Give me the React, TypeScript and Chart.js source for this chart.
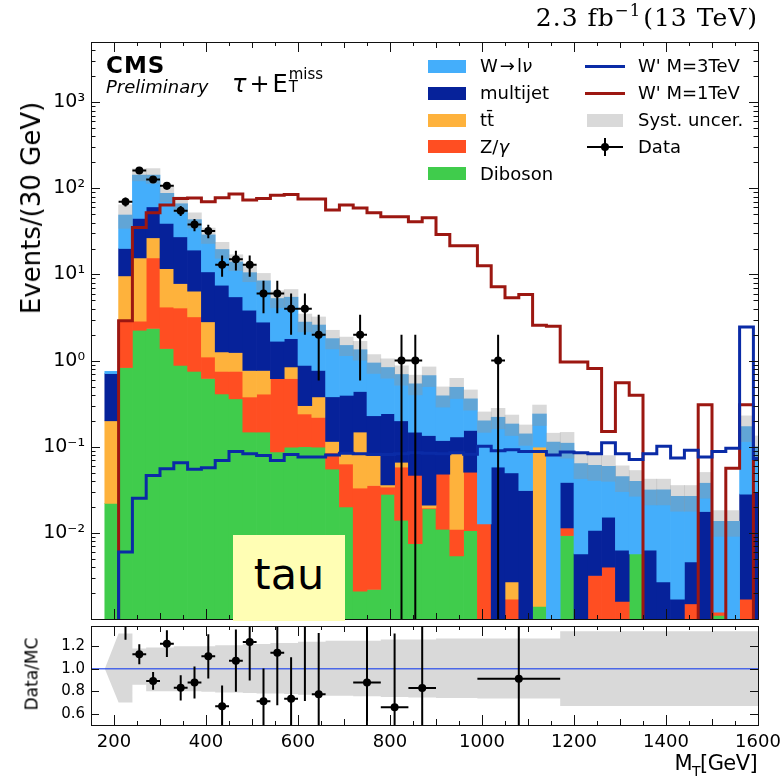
import React, { useEffect, useRef } from 'react';
import { Chart, registerables } from 'chart.js';

Chart.register(...registerables);
Chart.defaults.font.family = "'DejaVu Sans', sans-serif";
Chart.defaults.color = '#000';

// Lower edges of the 30 GeV transverse-mass bins
const binLowEdges = [
  180, 210, 240, 270, 300, 330, 360, 390, 420, 450, 480, 510, 540, 570, 600, 630,
  660, 690, 720, 750, 780, 810, 840, 870, 900, 930, 960, 990, 1020, 1050, 1080, 1110,
  1140, 1170, 1200, 1230, 1260, 1290, 1320, 1350, 1380, 1410, 1440, 1470, 1500, 1530, 1560, 1590,
];
const BIN_WIDTH = 30;

// Expected backgrounds (events per bin)
const wToLNu = [
  0.044, 29, 97.8, 81.5, 48.3, 38.9, 24.1, 18.1, 12.0, 8.5, 6.65, 5.64, 3.58, 3.65, 1.92, 1.82,
  1.42, 1.105, 0.9, 0.71, 0.59, 0.49, 0.39, 0.535, 0.272, 0.36, 0.205, 0.187, 0.162, 0.134, 0.11, 0.141,
  0.113, 0.0715, 0.058, 0.05, 0.044, 0.0387, 0.034, 0.0252, 0.0288, 0.0249, 0.022, 0.02, 0.0124, 0.0136, 0.143, 0.07,
];
const multijet = [
  0.506, 10.4, 29.2, 34.3, 27.5, 19.5, 12.8, 7.9, 6.24, 4.26, 3.08, 2.03, 1.06, 0.955, 0.58, 0.39,
  0.265, 0.308, 0.29, 0.15, 0.206, 0.134, 0.101, 0.114, 0.07, 0.047, 0.104, 0, 0.058, 0.047, 0.031, 0,
  0, 0.0271, 0.0057, 0.0075, 0.0112, 0.0047, 0, 0.0063, 0.0027, 0.0017, 0.0031, 0.0177, 0, 0, 0.0265, 0.03,
];
const ttbar = [
  0.178, 6.7, 12.7, 11.1, 7.5, 3.76, 3.18, 1.72, 0.51, 0.49, 0.39, 0.36, 0, 0.225, 0.06, 0.16,
  0.03, 0.024, 0.115, 0.0435, 0.002, 0.008, 0, 0.0016, 0, 0.072, 0, 0, 0, 0.001, 0, 0.0976,
  0, 0, 0, 0, 0, 0, 0, 0, 0, 0, 0, 0, 0, 0, 0, 0,
];
const zGamma = [
  0, 2.1, 0.61, 13.2, 2.8, 3.2, 2.47, 0.48, 0.34, 0.39, 0.23, 0.26, 0.53, 0.52, 0.14, 0.12,
  0.03, 0.043, 0.031, 0.0333, 0.006, 0.044, 0.039, 0.0004, 0.037, 0.0056, 0.04, 0.0127, 0, 0.0017, 0, 0,
  0, 0.0021, 0, 0.0032, 0.004, 0.0016, 0, 0, 0, 0, 0.0015, 0, 0.0001, 0, 0.0017, 0,
];
const diboson = [
  0.022, 0.83, 2.25, 2.36, 1.38, 0.88, 0.75, 0.62, 0.41, 0.36, 0.148, 0.148, 0.087, 0.099, 0.1, 0.099,
  0.055, 0.02, 0.0021, 0.0022, 0.028, 0.014, 0.0075, 0.019, 0.011, 0.0054, 0.0106, 0, 0, 0, 0, 0.0014,
  0, 0.0093, 0, 0, 0, 0, 0.0057, 0, 0, 0, 0, 0, 0.0011, 0, 0, 0,
];

// Signal hypotheses (events per bin)
const wPrime3TeV = [
  0, 0.006, 0.0253, 0.0464, 0.0555, 0.0652, 0.0546, 0.057, 0.0693, 0.0882, 0.083, 0.079, 0.069, 0.081, 0.076, 0.076,
  0.08, 0.084, 0.083, 0.082, 0.081, 0.083, 0.085, 0.084, 0.083, 0.085, 0.082, 0.101, 0.09, 0.092, 0.088, 0.088,
  0.08, 0.087, 0.085, 0.083, 0.111, 0.083, 0.071, 0.083, 0.101, 0.074, 0.091, 0.076, 0.088, 0.096, 2.46, 0.073,
];
const wPrime1TeV = [
  0, 2.9, 35, 52, 64, 76, 77, 70, 78, 86, 73, 76, 83, 85, 75, 75,
  56, 64, 59, 52, 46.8, 46.8, 41, 45.6, 29.2, 21.6, 21.6, 12.6, 7.2, 5.35, 5.85, 2.57,
  2.5, 0.965, 0.965, 0.81, 0.15, 0.555, 0.395, 0, 0, 0, 0, 0.308, 0, 0.0563, 0.308, 0,
];

// Observed events per bin
const observed = [
  0, 70, 161, 127, 107, 55, 38, 32, 13, 15, 13, 6, 6, 4, 4, 2,
  0, 0, 2, 0, 0, 1, 1, 0, 0, 0, 0, 0, 1, 0, 0, 0,
  0, 0, 0, 0, 0, 0, 0, 0, 0, 0, 0, 0, 0, 0, 0, 0,
];

// Bin edges of the ratio panel and relative systematic uncertainty in each of them
const ratioEdges = [
  180, 210, 240, 270, 300, 330, 360, 390, 420, 450, 480, 510, 540, 570, 600, 630, 660,
  720, 780, 840, 900, 990, 1170, 1620,
];
const systUp = [
  0, 0.314, 0.18, 0.19, 0.19, 0.2, 0.2, 0.2, 0.21, 0.21, 0.22, 0.22, 0.23, 0.23, 0.24, 0.24,
  0.25, 0.25, 0.26, 0.26, 0.27, 0.27, 0.334,
];
const systDown = [
  0, 0.3, 0.143, 0.2, 0.2, 0.2, 0.2, 0.205, 0.21, 0.21, 0.215, 0.22, 0.22, 0.225, 0.23, 0.235,
  0.24, 0.245, 0.25, 0.255, 0.26, 0.265, 0.33,
];

// Axis ticks
const mtTicks = [200, 400, 600, 800, 1000, 1200, 1400, 1600];
const eventTicks = [1e-2, 1e-1, 1, 10, 100, 1000];
const ratioTicks = [0.6, 0.8, 1.0, 1.2];

const MT_MIN = 150;
const MT_MAX = 1600;
const EVENTS_MIN = 1e-3;
const EVENTS_MAX = 5000;
const RATIO_MIN = 0.5;
const RATIO_MAX = 1.38;
const LOG_FLOOR = 1e-6; // stands in for zero on the log axis

const COLORS = {
  wlnu: '#44AEFB',
  multijet: '#06229A',
  ttbar: '#FEB23C',
  zgamma: '#FF4E22',
  diboson: '#40CC4C',
  w3: '#0A2BA6',
  w1: '#9C1711',
  syst: 'rgba(150,150,150,0.36)',
  unity: 'rgba(40,75,235,0.8)',
};

const centers = binLowEdges.map((e) => e + BIN_WIDTH / 2);
const mcTotal = binLowEdges.map((_, i) => wToLNu[i] + multijet[i] + ttbar[i] + zGamma[i] + diboson[i]);

function ratioBinOf(edge: number) {
  for (let j = 0; j < ratioEdges.length - 1; j++) {
    if (edge >= ratioEdges[j] && edge < ratioEdges[j + 1]) return j;
  }
  return ratioEdges.length - 2;
}

const SUP: Record<string, string> = { '-': '⁻', '0': '⁰', '1': '¹', '2': '²', '3': '³', '4': '⁴', '5': '⁵' };
const powerLabel = (v: number) =>
  '10' + String(Math.round(Math.log10(v))).split('').map((c) => SUP[c] || c).join('');

// Vertical and horizontal error bars drawn through the chart's scales
const errorBarsPlugin = {
  id: 'errorBars',
  afterDatasetsDraw(chart: any, _args: any, opts: any) {
    if (!opts || !opts.items) return;
    const { ctx, chartArea: a } = chart;
    const xs = chart.scales.x;
    const ys = chart.scales.y;
    ctx.save();
    ctx.beginPath();
    ctx.rect(a.left, a.top, a.right - a.left, a.bottom - a.top);
    ctx.clip();
    ctx.strokeStyle = opts.color || '#000';
    ctx.lineWidth = opts.width || 2;
    ctx.beginPath();
    for (const it of opts.items) {
      const px = xs.getPixelForValue(it.x);
      const py = ys.getPixelForValue(it.y);
      const hi = ys.getPixelForValue(it.yHi);
      const lo = opts.log && it.yLo <= 0 ? a.bottom + 20 : ys.getPixelForValue(it.yLo);
      ctx.moveTo(px, lo);
      ctx.lineTo(px, hi);
      ctx.moveTo(xs.getPixelForValue(it.xLo), py);
      ctx.lineTo(xs.getPixelForValue(it.xHi), py);
    }
    ctx.stroke();
    ctx.restore();
  },
};

// Inward tick marks on all four sides plus the frame
const frameTicksPlugin = {
  id: 'frameTicks',
  afterDraw(chart: any, _args: any, opts: any) {
    const { ctx, chartArea: a } = chart;
    const xs = chart.scales.x;
    const ys = chart.scales.y;
    ctx.save();
    ctx.strokeStyle = '#111';
    ctx.lineWidth = 1;
    ctx.beginPath();
    for (const t of opts.x || []) {
      const px = Math.round(xs.getPixelForValue(t.v)) + 0.5;
      ctx.moveTo(px, a.top);
      ctx.lineTo(px, a.top + t.len);
      ctx.moveTo(px, a.bottom);
      ctx.lineTo(px, a.bottom - t.len);
    }
    for (const t of opts.y || []) {
      const py = Math.round(ys.getPixelForValue(t.v)) + 0.5;
      ctx.moveTo(a.left, py);
      ctx.lineTo(a.left + t.len, py);
      ctx.moveTo(a.right, py);
      ctx.lineTo(a.right - t.len, py);
    }
    ctx.stroke();
    ctx.strokeRect(
      Math.round(a.left) + 0.5,
      Math.round(a.top) + 0.5,
      Math.round(a.right - a.left),
      Math.round(a.bottom - a.top),
    );
    ctx.restore();
  },
};

function mtTickMarks() {
  const marks: { v: number; len: number }[] = [];
  for (let v = MT_MIN; v <= MT_MAX; v += 50) {
    marks.push({ v, len: v % 200 === 0 ? 10 : v % 100 === 0 ? 6 : 4 });
  }
  return marks;
}

function logTickMarks() {
  const marks: { v: number; len: number }[] = [];
  for (let d = -3; d <= 3; d++) {
    for (let m = 1; m <= 9; m++) {
      const v = m * Math.pow(10, d);
      if (v > EVENTS_MIN * 1.001 && v < EVENTS_MAX) marks.push({ v, len: m === 1 ? 9 : 4.5 });
    }
  }
  return marks;
}

const STACK = [
  { label: 'Diboson', values: diboson, color: COLORS.diboson },
  { label: 'Z/γ', values: zGamma, color: COLORS.zgamma },
  { label: 'tt̄', values: ttbar, color: COLORS.ttbar },
  { label: 'multijet', values: multijet, color: COLORS.multijet },
  { label: 'W→lν', values: wToLNu, color: COLORS.wlnu },
];

function stackDatasets() {
  const base = binLowEdges.map(() => 0);
  return STACK.map((c) => {
    const data: any[] = [];
    c.values.forEach((v, i) => {
      if (v > 0) data.push({ x: centers[i], y: [Math.max(base[i], LOG_FLOOR), base[i] + v] });
      base[i] += v;
    });
    return {
      type: 'bar',
      label: c.label,
      data,
      backgroundColor: c.color,
      borderWidth: 0,
      grouped: false,
      barPercentage: 1,
      categoryPercentage: 1,
      clip: 0,
    };
  }).reverse();
}

function stepPoints(vals: number[]) {
  const pts = binLowEdges.map((e, i) => ({ x: e, y: Math.max(vals[i], LOG_FLOOR) }));
  pts.push({ x: binLowEdges[binLowEdges.length - 1] + BIN_WIDTH, y: Math.max(vals[vals.length - 1], LOG_FLOOR) });
  return pts;
}

function buildMainConfig(): any {
  const band: any[] = [];
  binLowEdges.forEach((e, i) => {
    const j = ratioBinOf(e);
    if (mcTotal[i] > 0 && (systUp[j] > 0 || systDown[j] > 0)) {
      band.push({ x: centers[i], y: [mcTotal[i] * (1 - systDown[j]), mcTotal[i] * (1 + systUp[j])] });
    }
  });

  const dataPts: any[] = [];
  const errs: any[] = [];
  observed.forEach((n, i) => {
    if (n <= 0) return;
    dataPts.push({ x: centers[i], y: n });
    errs.push({
      x: centers[i], y: n,
      xLo: binLowEdges[i], xHi: binLowEdges[i] + BIN_WIDTH,
      yLo: n - Math.sqrt(n), yHi: n + Math.sqrt(n),
    });
  });

  const lineCommon = {
    type: 'line', pointRadius: 0, borderWidth: 3, stepped: true, fill: false, clip: 0,
    borderJoinStyle: 'miter', borderCapStyle: 'butt',
  };

  return {
    type: 'scatter',
    data: {
      datasets: [
        { type: 'scatter', label: 'Data', data: dataPts, pointRadius: 4, pointBackgroundColor: '#000', pointBorderWidth: 0, clip: 0 },
        { ...lineCommon, label: "W' M=3TeV", data: stepPoints(wPrime3TeV), borderColor: COLORS.w3 },
        { ...lineCommon, label: "W' M=1TeV", data: stepPoints(wPrime1TeV), borderColor: COLORS.w1 },
        {
          type: 'bar', label: 'Syst. uncer.', data: band, backgroundColor: COLORS.syst, borderWidth: 0,
          grouped: false, barPercentage: 1, categoryPercentage: 1, clip: 0,
        },
        ...stackDatasets(),
      ],
    },
    options: {
      responsive: false,
      animation: false,
      events: [],
      layout: { padding: { left: 0, right: 26, top: 42, bottom: 1 } },
      plugins: {
        legend: { display: false },
        tooltip: { enabled: false },
        errorBars: { items: errs, log: true, color: '#000', width: 2 },
        frameTicks: { x: mtTickMarks(), y: logTickMarks() },
      },
      scales: {
        x: { type: 'linear', min: MT_MIN, max: MT_MAX, display: false, offset: false },
        y: {
          type: 'logarithmic',
          min: EVENTS_MIN,
          max: EVENTS_MAX,
          grid: { display: false, drawTicks: false },
          border: { display: false },
          afterBuildTicks: (s: any) => { s.ticks = eventTicks.map((v) => ({ value: v })); },
          afterFit: (s: any) => { s.width = 91; s.paddingTop = 0; s.paddingBottom = 0; },
          ticks: { callback: (v: any) => powerLabel(Number(v)), font: { size: 19 }, color: '#000', padding: 6, autoSkip: false },
        },
      },
    },
    plugins: [errorBarsPlugin, frameTicksPlugin],
  };
}

function buildRatioConfig(): any {
  const groups = ratioEdges.slice(0, -1).map((lo, j) => {
    const hi = ratioEdges[j + 1];
    let n = 0;
    let mc = 0;
    binLowEdges.forEach((e, i) => {
      if (e >= lo && e < hi) { n += observed[i]; mc += mcTotal[i]; }
    });
    return { lo, hi, n, mc };
  });

  const pts: any[] = [];
  const errs: any[] = [];
  groups.forEach((g) => {
    if (g.n <= 0 || g.mc <= 0) return;
    const r = g.n / g.mc;
    const e = Math.sqrt(g.n) / g.mc;
    const c = (g.lo + g.hi) / 2;
    pts.push({ x: c, y: r });
    errs.push({ x: c, y: r, xLo: g.lo, xHi: g.hi, yLo: r - e, yHi: r + e });
  });

  // band outline: up along the upper edge, back along the lower edge
  const upper: any[] = [{ x: ratioEdges[0], y: 1 + systUp[0] }];
  const lower: any[] = [{ x: ratioEdges[0], y: 1 - systDown[0] }];
  for (let j = 1; j < ratioEdges.length - 1; j++) {
    upper.push({ x: ratioEdges[j], y: 1 + systUp[j] }, { x: ratioEdges[j + 1], y: 1 + systUp[j] });
    lower.push({ x: ratioEdges[j], y: 1 - systDown[j] }, { x: ratioEdges[j + 1], y: 1 - systDown[j] });
  }
  const bandShape = [...upper, ...lower.reverse()];

  return {
    type: 'scatter',
    data: {
      datasets: [
        { type: 'scatter', label: 'Data/MC', data: pts, pointRadius: 4, pointBackgroundColor: '#000', pointBorderWidth: 0, clip: 0 },
        {
          type: 'line', label: 'unity', data: [{ x: MT_MIN, y: 1 }, { x: MT_MAX, y: 1 }],
          borderColor: COLORS.unity, borderWidth: 1.6, pointRadius: 0, fill: false, clip: 0,
        },
        {
          type: 'line', label: 'syst', data: bandShape, showLine: true, fill: 'shape',
          backgroundColor: COLORS.syst, borderColor: 'rgba(0,0,0,0)', borderWidth: 0, pointRadius: 0, tension: 0, clip: 0,
        },
      ],
    },
    options: {
      responsive: false,
      animation: false,
      events: [],
      layout: { padding: { left: 0, right: 26, top: 0, bottom: 0 } },
      plugins: {
        legend: { display: false },
        tooltip: { enabled: false },
        errorBars: { items: errs, log: false, color: '#000', width: 2 },
        frameTicks: { x: mtTickMarks(), y: ratioTicks.map((v) => ({ v, len: 8 })) },
      },
      scales: {
        x: {
          type: 'linear', min: MT_MIN, max: MT_MAX, offset: false,
          grid: { display: false, drawTicks: false },
          border: { display: false },
          afterBuildTicks: (s: any) => { s.ticks = mtTicks.map((v) => ({ value: v })); },
          afterFit: (s: any) => { s.height = 53; s.paddingLeft = 0; s.paddingRight = 0; },
          ticks: { callback: (v: any) => String(v), font: { size: 18 }, color: '#000', padding: 7, autoSkip: false, maxRotation: 0 },
        },
        y: {
          type: 'linear', min: RATIO_MIN, max: RATIO_MAX,
          grid: { display: false, drawTicks: false },
          border: { display: false },
          afterBuildTicks: (s: any) => { s.ticks = ratioTicks.map((v) => ({ value: v })); },
          afterFit: (s: any) => { s.width = 91; s.paddingTop = 0; s.paddingBottom = 0; },
          ticks: { callback: (v: any) => Number(v).toFixed(1), font: { size: 15 }, color: '#000', padding: 6, autoSkip: false },
        },
      },
    },
    plugins: [errorBarsPlugin, frameTicksPlugin],
  };
}

const LEGEND_ROWS = [66, 93, 120, 146.5, 173.5];

const abs = (style: React.CSSProperties): React.CSSProperties => ({ position: 'absolute', whiteSpace: 'nowrap', ...style });

export default function App() {
  const mainRef = useRef<HTMLCanvasElement | null>(null);
  const ratioRef = useRef<HTMLCanvasElement | null>(null);

  useEffect(() => {
    if (!mainRef.current || !ratioRef.current) return;
    const mainChart = new Chart(mainRef.current, buildMainConfig());
    const ratioChart = new Chart(ratioRef.current, buildRatioConfig());
    return () => {
      mainChart.destroy();
      ratioChart.destroy();
    };
  }, []);

  const leftEntries: { label: React.ReactNode; color: string }[] = [
    { label: <>W<span style={{ padding: '0 2px' }}>→</span>l<i>ν</i></>, color: COLORS.wlnu },
    { label: 'multijet', color: COLORS.multijet },
    { label: 'tt\u0304', color: COLORS.ttbar },
    { label: <>Z/<i>γ</i></>, color: COLORS.zgamma },
    { label: 'Diboson', color: COLORS.diboson },
  ];

  const labelStyle = (y: number, x: number): React.CSSProperties =>
    abs({ left: x, top: y - 8.6, fontSize: 18, lineHeight: '18px' });

  return (
    <div
      style={{
        position: 'absolute', left: 0, top: 0, width: 784, height: 778, background: '#fff',
        overflow: 'hidden', fontFamily: "'DejaVu Sans', sans-serif", color: '#000',
      }}
    >
      <canvas ref={mainRef} width={784} height={623} style={{ position: 'absolute', left: 0, top: 0, width: 784, height: 623 }} />
      <canvas ref={ratioRef} width={784} height={156} style={{ position: 'absolute', left: 0, top: 622, width: 784, height: 156 }} />

      {/* luminosity / energy */}
      <div style={abs({ right: 26, top: 4, fontFamily: "'DejaVu Serif', serif", fontSize: 25, lineHeight: '28px', letterSpacing: 1 })}>
        2.3 fb<span style={{ fontSize: '0.66em', position: 'relative', top: '-0.6em' }}>−1</span>
        <span style={{ marginLeft: 2 }}>(13 TeV)</span>
      </div>

      {/* experiment label and channel */}
      <div style={abs({ left: 106, top: 54, fontSize: 23, lineHeight: '23px', fontWeight: 'bold', letterSpacing: 1 })}>CMS</div>
      <div style={abs({ left: 106, top: 78, fontSize: 18, lineHeight: '18px', fontStyle: 'italic' })}>Preliminary</div>
      <div style={abs({ left: 232, top: 72, fontSize: 24, lineHeight: '24px' })}>
        <i>τ</i>
        <span style={{ padding: '0 3px' }}>+</span>E
        <span style={{ display: 'inline-flex', flexDirection: 'column', fontSize: 15, lineHeight: '13px', verticalAlign: 'top', marginTop: -4, marginLeft: 1 }}>
          <span>miss</span>
          <span>T</span>
        </span>
      </div>

      {/* legend, left column */}
      {leftEntries.map((e, k) => (
        <React.Fragment key={k}>
          <div style={abs({ left: 428, top: LEGEND_ROWS[k] - 6.5, width: 38, height: 13, background: e.color })} />
          <div style={labelStyle(LEGEND_ROWS[k], 480)}>{e.label}</div>
        </React.Fragment>
      ))}

      {/* legend, right column */}
      <div style={abs({ left: 585, top: LEGEND_ROWS[0] - 1.5, width: 40, height: 3, background: COLORS.w3 })} />
      <div style={labelStyle(LEGEND_ROWS[0], 638)}>W' M=3TeV</div>
      <div style={abs({ left: 585, top: LEGEND_ROWS[1] - 1.5, width: 40, height: 3, background: COLORS.w1 })} />
      <div style={labelStyle(LEGEND_ROWS[1], 638)}>W' M=1TeV</div>
      <div style={abs({ left: 587, top: LEGEND_ROWS[2] - 6.5, width: 36, height: 13, background: COLORS.syst })} />
      <div style={labelStyle(LEGEND_ROWS[2], 638)}>Syst. uncer.</div>
      <div style={abs({ left: 587, top: LEGEND_ROWS[3] - 1, width: 36, height: 2, background: '#000' })} />
      <div style={abs({ left: 604, top: LEGEND_ROWS[3] - 9, width: 2, height: 18, background: '#000' })} />
      <div style={abs({ left: 601, top: LEGEND_ROWS[3] - 4, width: 8, height: 8, borderRadius: 4, background: '#000' })} />
      <div style={labelStyle(LEGEND_ROWS[3], 638)}>Data</div>

      {/* channel tag */}
      <div style={abs({ left: 233, top: 535, width: 112, height: 86, background: '#FFFEB4' })}>
        <div style={abs({ left: 0, width: 112, top: 18, textAlign: 'center', fontSize: 43, lineHeight: '43px' })}>tau</div>
      </div>

      {/* axis titles */}
      <div style={abs({ left: 31, top: 208, fontSize: 26, lineHeight: '26px', transform: 'translate(-50%, -50%) rotate(-90deg)' })}>
        Events/(30 GeV)
      </div>
      <div style={abs({ left: 32, top: 674, fontSize: 17, lineHeight: '17px', transform: 'translate(-50%, -50%) rotate(-90deg)' })}>
        Data/MC
      </div>
      <div style={abs({ right: 27, top: 753, fontSize: 21, lineHeight: '21px', letterSpacing: -0.6 })}>
        M<span style={{ fontSize: 14, position: 'relative', top: 6 }}>T</span>[GeV]
      </div>
    </div>
  );
}
